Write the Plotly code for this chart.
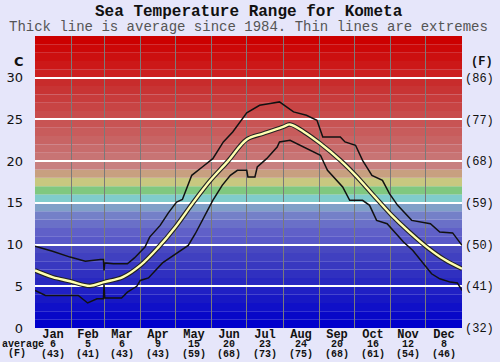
import plotly.graph_objects as go

# ---------------- data ----------------
months = ["Jan", "Feb", "Mar", "Apr", "May", "Jun", "Jul", "Aug", "Sep", "Oct", "Nov", "Dec"]
month_avg_c = [6, 5, 6, 9, 15, 20, 23, 24, 20, 16, 12, 8]
month_avg_f = [43, 41, 43, 43, 59, 68, 73, 75, 68, 61, 54, 46]
month_start_day = [0, 31, 59, 90, 120, 151, 181, 212, 243, 273, 304, 334, 365]

avg_day = [0, 15, 30, 47, 59, 75, 90, 105, 120, 135, 150, 165, 181, 195, 212, 218, 230, 243,
           261, 274, 290, 305, 320, 335, 350, 365]
avg_temp = [6.9, 6.1, 5.6, 5.05, 5.5, 6.1, 7.5, 9.6, 12.1, 15.0, 17.7, 20.0, 22.6, 23.3, 24.1,
            24.4, 23.5, 22.2, 20.1, 18.3, 15.8, 13.5, 11.5, 9.7, 8.2, 7.1]

max_day = [0, 15, 30, 43, 56, 58.5, 59, 59.6, 67, 79, 85, 94, 98, 107, 114, 121, 126, 134, 143,
           152, 161, 169, 181, 192, 201, 209, 215, 221, 232, 241, 246, 261, 265, 274, 280, 288,
           297, 303, 310, 322, 338, 346, 357, 365]
max_temp = [9.8, 9.2, 8.5, 8.0, 8.2, 8.2, 6.9, 7.8, 7.7, 7.7, 8.4, 9.7, 10.9, 12.3, 13.8, 15.1,
            15.4, 18.3, 19.3, 20.3, 22.3, 23.5, 25.8, 26.7, 26.9, 27.1, 26.5, 25.9, 25.5, 24.9,
            22.9, 22.9, 22.3, 21.9, 20.1, 18.3, 17.7, 16.1, 14.7, 12.9, 12.5, 11.5, 11.4, 9.9]

min_day = [0, 9, 37, 45, 53, 58.5, 59, 59.6, 67, 74, 79, 87, 90, 97, 109, 122, 131, 137, 145,
           152, 160, 167, 173, 181, 182, 188, 190, 198, 207, 209, 218, 227, 235, 244, 250, 258,
           263, 269, 280, 286, 292, 301, 306, 315, 323, 332, 339, 346, 355, 361, 365]
min_temp = [4.5, 3.9, 3.9, 3.0, 3.5, 3.5, 5.2, 3.6, 3.6, 3.6, 4.3, 5.0, 5.7, 6.0, 7.8, 9.0, 9.9,
            11.3, 13.5, 15.3, 17.1, 18.3, 18.9, 18.9, 18.1, 18.1, 19.3, 20.3, 21.7, 22.3, 22.5,
            21.9, 21.3, 20.7, 18.9, 17.7, 16.9, 15.3, 15.3, 14.7, 12.9, 12.5, 11.7, 10.3, 9.3,
            7.7, 6.5, 5.9, 5.5, 5.4, 4.5]

c_ticks = [0, 5, 10, 15, 20, 25, 30]
f_ticks = ["(32)", "(41)", "(50)", "(59)", "(68)", "(77)", "(86)"]

# band colours, one per degree from 0 (bottom) to 35 (top)
band_colors = [
    "#0000cc", "#0808c8", "#1010c8", "#1818c4", "#2020c4", "#2828c0", "#3030c0", "#3838c0",
    "#4040c0", "#4848c0", "#5858c8", "#6060c8", "#6a70c8", "#7480c8", "#80a0c8", "#80cccc",
    "#80c880", "#c8c880", "#c8a080", "#c88080", "#c87474", "#c86c6c", "#c86464", "#c85c5c",
    "#c85454", "#c84c4c", "#c84444", "#c83c3c", "#c83434", "#c82c2c", "#cc2020", "#cc1818",
    "#cc1010", "#cc0808", "#cc0000",
]

# ---------------- figure ----------------
MONO = "Liberation Mono, Courier New, monospace"
H, W = 362, 500
mt, mb, ml, mr = 36, 34, 35, 38
ph = H - mt - mb
pw = W - ml - mr


def py(pix):
    return (H - mb - pix) / ph


def px(pix):
    return (pix - ml) / pw


fig = go.Figure()

shapes = []
for i, col in enumerate(band_colors):
    shapes.append(dict(type="rect", xref="paper", yref="y", x0=0, x1=1, y0=i, y1=i + 1,
                       fillcolor=col, line=dict(width=0), layer="below"))

fig.add_trace(go.Scatter(x=max_day, y=max_temp, mode="lines",
                         line=dict(color="#111111", width=1.5), hoverinfo="skip"))
fig.add_trace(go.Scatter(x=min_day, y=min_temp, mode="lines",
                         line=dict(color="#111111", width=1.5), hoverinfo="skip"))
fig.add_trace(go.Scatter(x=avg_day, y=avg_temp, mode="lines",
                         line=dict(color="#222222", width=4.6, shape="spline"), hoverinfo="skip"))
fig.add_trace(go.Scatter(x=avg_day, y=avg_temp, mode="lines",
                         line=dict(color="#ffffb0", width=2.4, shape="spline"), hoverinfo="skip"))
# invisible trace to carry the right axis
fig.add_trace(go.Scatter(x=[0], y=[0], yaxis="y2", mode="markers",
                         marker=dict(opacity=0), hoverinfo="skip"))


def ann(text, x, y, size, color="#111111", family=MONO, xref="paper", align="center",
        xanchor="center"):
    return dict(text=text, x=x, y=py(y), xref=xref, yref="paper", showarrow=False,
                xanchor=xanchor, yanchor="middle", align=align,
                font=dict(family=family, size=size, color=color))


annotations = [
    ann("<b>Sea Temperature Range for Kometa</b>", 0.5, 12, 16),
    ann("Thick line is average since 1984. Thin lines are extremes", 0.5, 27, 14,
        color="#555555"),
    ann("<b>C</b>", px(18.5), 61, 13, family="DejaVu Sans"),
    ann("<b>(F)</b>", px(482), 62, 12),
    ann('<span style="font-size:10px"><b>average</b></span><br>'
        '<span style="font-size:10px"><b>&nbsp;(F)</b></span>',
        px(0), 348.5, 7.3, align="left", xanchor="left"),
]

for i, m in enumerate(months):
    xc = (month_start_day[i] + month_start_day[i + 1]) / 2
    txt = ('<span style="font-size:12px"><b>%s</b></span><br>'
           '<span style="font-size:10px"><b>%d</b></span><br>'
           '<span style="font-size:10px"><b>(%d)</b></span>') % (m, month_avg_c[i], month_avg_f[i])
    annotations.append(ann(txt, xc, 343.5, 7.3, xref="x"))

fig.update_layout(
    width=W, height=H,
    margin=dict(l=ml, r=mr, t=mt, b=mb, pad=0, autoexpand=False),
    paper_bgcolor="#e6e6fa",
    plot_bgcolor="#e6e6fa",
    showlegend=False,
    shapes=shapes,
    annotations=annotations,
    xaxis=dict(range=[0, 365], tickvals=month_start_day, showticklabels=False,
               showgrid=True, gridcolor="#7a7a7a", gridwidth=1, zeroline=False,
               showline=False, ticks="", fixedrange=True, automargin=False),
    yaxis=dict(range=[0, 35], tickvals=c_ticks, ticktext=[str(v) for v in c_ticks],
               showgrid=True, gridcolor="#ffffff", gridwidth=2, zeroline=False,
               ticks="", ticklabelstandoff=11, automargin=False,
               tickfont=dict(family="DejaVu Sans", size=13, color="#111111"), fixedrange=True),
    yaxis2=dict(range=[0, 35], overlaying="y", side="right", tickvals=c_ticks, ticktext=f_ticks,
                showgrid=False, zeroline=False, ticks="", ticklabelstandoff=2, automargin=False,
                tickfont=dict(family=MONO, size=12, color="#111111"), fixedrange=True),
)

fig.write_html("out.html", config={"displayModeBar": False},
               post_script="document.body.style.margin='0';document.body.style.padding='0';")
